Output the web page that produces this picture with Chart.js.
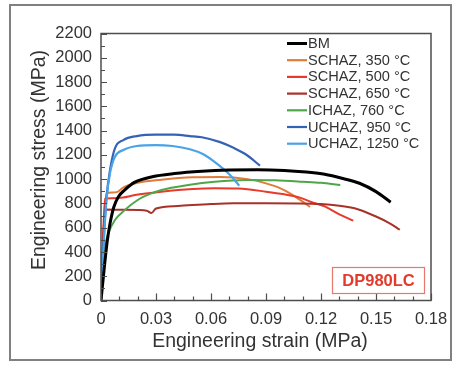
<!DOCTYPE html>
<html>
<head>
<meta charset="utf-8">
<script src="https://cdn.jsdelivr.net/npm/chart.js@4/dist/chart.umd.min.js"></script>
<style>
html,body{margin:0;padding:0;background:#fff;}
#c{display:block;}
</style>
</head>
<body>
<canvas id="c" width="461" height="368"></canvas>
<script>
// ---- data ----
const seriesNames = ['BM','SCHAZ, 350 °C','SCHAZ, 500 °C','SCHAZ, 650 °C','ICHAZ, 760 °C','UCHAZ, 950 °C','UCHAZ, 1250 °C'];

const bmStrain = [0,0.002,0.0035,0.005,0.007,0.0095,0.013,0.0185,0.028,0.04,0.055,0.07,0.085,0.1,0.112,0.122,0.132,0.141,0.15,0.158];
const bmStress = [0,300,500,640,770,855,912,975,1020,1046,1065,1075,1078,1072,1058,1040,1005,966,897,810];

const s350Strain = [0,0.0015,0.003,0.006,0.009,0.0115,0.015,0.02,0.033,0.05,0.065,0.08,0.09,0.097,0.104,0.109,0.114];
const s350Stress = [0,600,885,890,895,925,950,970,995,1015,1018,1000,965,930,875,825,770];

const s500Strain = [0,0.0012,0.0022,0.006,0.012,0.0185,0.033,0.05,0.062,0.075,0.09,0.1,0.108,0.115,0.122,0.13,0.1376];
const s500Stress = [0,550,840,843,848,869,897,919,925,922,897,875,850,810,775,710,658];

const s650Strain = [0,0.0012,0.0022,0.01,0.02,0.025,0.0275,0.03,0.042,0.06,0.072,0.09,0.108,0.12,0.13,0.14,0.15,0.157,0.163];
const s650Stress = [0,500,750,748,745,740,720,758,779,795,801,801,800,795,780,752,692,640,583];

const i760Strain = [0,0.001,0.002,0.004,0.0076,0.013,0.02,0.027,0.033,0.0476,0.062,0.08,0.095,0.11,0.12,0.1305];
const i760Stress = [0,350,440,553,663,746,828,880,911,952,979,993,990,979,970,952];

const u950Strain = [0,0.0015,0.003,0.0049,0.0076,0.0122,0.0195,0.03,0.04,0.0485,0.055,0.065,0.072,0.0795,0.0867];
const u950Stress = [0,500,850,1074,1254,1322,1355,1367,1366,1355,1345,1305,1260,1199,1111];

const u1250Strain = [0,0.0015,0.003,0.0049,0.0076,0.0122,0.0195,0.03,0.039,0.0485,0.0558,0.063,0.0704,0.0754];
const u1250Stress = [0,480,828,1048,1185,1240,1273,1281,1273,1246,1205,1130,1034,946];

const xTickValues = [0,0.03,0.06,0.09,0.12,0.15,0.18];
const xTickLabels = ['0','0.03','0.06','0.09','0.12','0.15','0.18'];
const yTickLabels = ['0','200','400','600','800','1000','1200','1400','1600','1800','2000','2200'];

const xTitle = 'Engineering strain (MPa)';
const yTitle = 'Engineering stress (MPa)';
const tagText = 'DP980LC';

// ---- build datasets ----
function pts(xs, ys){ return xs.map((v,i)=>({x:v,y:ys[i]})); }
const colors = ['#000000','#E07B39','#E8392A','#A8312A','#4EA64A','#3462B5','#4AA3E8'];
const widths = [3,2,2,2,2,2.2,2.2];
const allData = [
  pts(bmStrain,bmStress), pts(s350Strain,s350Stress), pts(s500Strain,s500Stress),
  pts(s650Strain,s650Stress), pts(i760Strain,i760Stress), pts(u950Strain,u950Stress),
  pts(u1250Strain,u1250Stress)
];
const datasets = allData.map((d,i)=>({
  label: seriesNames[i], data: d, borderColor: colors[i], backgroundColor: colors[i],
  borderWidth: widths[i], pointRadius: 0, fill:false, tension: 0.35,
  cubicInterpolationMode: 'monotone', order: i===0 ? 0 : 7-i
}));

const FONT = '"Liberation Sans", Arial, sans-serif';
const TXT = '#333333';

const deco = {
  id: 'deco',
  afterDraw(chart){
    const ctx = chart.ctx, a = chart.chartArea, xs = chart.scales.x, ys = chart.scales.y;
    ctx.save();
    // outer figure border
    ctx.strokeStyle = '#808080'; ctx.lineWidth = 2;
    ctx.strokeRect(10, 5, 441, 355);
    // plot frame
    ctx.strokeStyle = '#4d4d4d'; ctx.lineWidth = 1.5;
    ctx.strokeRect(a.left, a.top, a.right - a.left, a.bottom - a.top);
    // inward ticks
    ctx.lineWidth = 1.2;
    ctx.beginPath();
    for (let k = 0; k <= 18; k++) {
      const v = k / 100;
      const px = Math.round(xs.getPixelForValue(v)) + 0.5;
      const len = (k % 3 === 0) ? 7 : 4;
      ctx.moveTo(px, a.bottom); ctx.lineTo(px, a.bottom - len);
    }
    for (let k = 0; k <= 22; k++) {
      const v = k * 100;
      const py = Math.round(ys.getPixelForValue(v)) + 0.5;
      const len = (k % 2 === 0) ? 6 : 4;
      ctx.moveTo(a.left, py); ctx.lineTo(a.left + len, py);
    }
    ctx.stroke();
    // axis titles
    ctx.fillStyle = TXT;
    ctx.font = '19.5px ' + FONT;
    ctx.textAlign = 'center'; ctx.textBaseline = 'middle';
    ctx.fillText(xTitle, 260, 342);
    ctx.save();
    ctx.translate(40, 160); ctx.rotate(-Math.PI/2);
    ctx.fillText(yTitle, 0, 0);
    ctx.restore();
    // legend
    ctx.font = '14.6px ' + FONT;
    ctx.textAlign = 'left'; ctx.textBaseline = 'middle';
    chart.data.datasets.forEach((ds, i) => {
      const y = 43.5 + i * 16.7;
      ctx.strokeStyle = ds.borderColor; ctx.lineWidth = i === 0 ? 3 : 2.2;
      ctx.beginPath(); ctx.moveTo(287, y); ctx.lineTo(307, y); ctx.stroke();
      ctx.fillStyle = TXT;
      ctx.fillText(ds.label, 308, y + 0.5);
    });
    // tag box
    ctx.strokeStyle = '#E8776C'; ctx.lineWidth = 1.2;
    ctx.strokeRect(332.5, 267.5, 92, 26);
    ctx.fillStyle = '#E23A2B';
    ctx.font = 'bold 16.5px ' + FONT;
    ctx.textAlign = 'center';
    ctx.fillText(tagText, 378.5, 281);
    ctx.restore();
  }
};

new Chart(document.getElementById('c'), {
  type: 'line',
  data: { datasets },
  options: {
    responsive: false, animation: false, devicePixelRatio: 1,
    layout: { padding: { left: 0, right: 30, top: 33.5, bottom: 0 } },
    plugins: { legend: { display: false }, tooltip: { enabled: false } },
    scales: {
      x: {
        type: 'linear', min: 0, max: 0.18,
        afterFit(s){ s.height = 67.5; },
        afterBuildTicks(s){ s.ticks = xTickValues.map(v => ({value: v})); },
        grid: { display: false, drawTicks: false },
        border: { display: false },
        ticks: { padding: 9, color: TXT, font: { size: 16.5, family: FONT },
          maxRotation: 0, autoSkip: false,
          callback: (v, i) => xTickLabels[i] }
      },
      y: {
        type: 'linear', min: 0, max: 2200,
        afterFit(s){ s.width = 101; },
        afterBuildTicks(s){ s.ticks = yTickLabels.map(t => ({value: Number(t)})); },
        grid: { display: false, drawTicks: false },
        border: { display: false },
        ticks: { padding: 9, color: TXT, font: { size: 16.5, family: FONT },
          autoSkip: false, callback: (v, i) => yTickLabels[i] }
      }
    }
  },
  plugins: [deco]
});
</script>
</body>
</html>
